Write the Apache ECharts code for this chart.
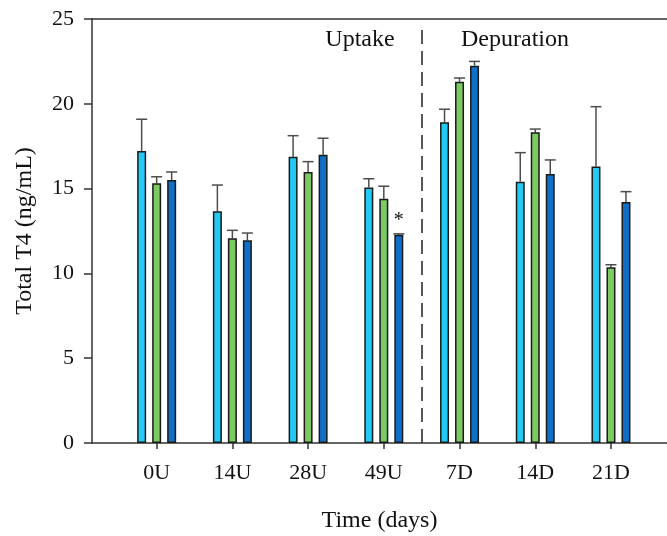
<!DOCTYPE html>
<html>
<head>
<meta charset="utf-8">
<script src="https://cdn.jsdelivr.net/npm/echarts@6/dist/echarts.min.js"></script>
<style>
html,body{margin:0;padding:0;background:#fff;}
#chart{width:667px;height:536px;}
</style>
</head>
<body>
<div id="chart"></div>
<script>
// ---- data ----
const categories = ['0U', '14U', '28U', '49U', '7D', '14D', '21D'];
const yTicks = [0, 5, 10, 15, 20, 25];
const meanA = [17.22, 13.66, 16.88, 15.07, 18.91, 15.41, 16.31];
const errA  = [1.87, 1.55, 1.24, 0.51, 0.77, 1.71, 3.52];
const meanB = [15.31, 12.07, 15.98, 14.40, 21.30, 18.32, 10.36];
const errB  = [0.39, 0.47, 0.61, 0.74, 0.22, 0.19, 0.15];
const meanC = [15.51, 11.95, 17.00, 12.28, 22.25, 15.86, 14.21];
const errC  = [0.47, 0.43, 0.97, 0.05, 0.25, 0.83, 0.61];
const markC = ['', '', '', '*', '', '', ''];
const phaseLabels = ['Uptake', 'Depuration'];
const phaseDivider = 4.5;
const phaseTop = 24.4;

// ---- style ----
const FONT = '"Liberation Serif", "Times New Roman", serif';
const colors = ['#22CBF6', '#7BCB62', '#106FC7'];
const BAR_W = 9;
const BAR_STEP = 15;
const X_MIN = 0.146, X_MAX = 7.74;

const chart = echarts.init(document.getElementById('chart'));
const positions = categories.map((c, i) => i + 1);

function barSeries(means, idx, extra) {
  return Object.assign({
    type: 'bar',
    name: 'S' + idx,
    data: means.map((v, i) => [positions[i], v]),
    barWidth: BAR_W,
    barGap: ((BAR_STEP - BAR_W) / BAR_W * 100) + '%',
    itemStyle: { color: colors[idx], borderColor: '#1a1a1a', borderWidth: 1.5 },
    z: 3
  }, extra || {});
}

function errSeries(means, errs, idx) {
  const off = (idx - 1) * BAR_STEP;
  return {
    type: 'custom',
    data: means.map((v, i) => [positions[i], v, errs[i]]),
    z: 2,
    silent: true,
    renderItem: function (params, api) {
      const b = api.coord([api.value(0), api.value(1)]);
      const t = api.coord([api.value(0), api.value(1) + api.value(2)]);
      const x = b[0] + off;
      const st = { stroke: '#4d4d4d', lineWidth: 1.5 };
      return {
        type: 'group',
        children: [
          { type: 'line', shape: { x1: x, y1: b[1], x2: x, y2: t[1] }, style: st },
          { type: 'line', shape: { x1: x - 5.5, y1: t[1], x2: x + 5.5, y2: t[1] }, style: st }
        ]
      };
    }
  };
}

const option = {
  animation: false,
  backgroundColor: '#fff',
  grid: { left: 92, right: 0, top: 19, bottom: 93, containLabel: false, outerBoundsMode: 'none' },
  xAxis: [{
    type: 'value',
    min: X_MIN, max: X_MAX,
    splitLine: { show: false },
    axisLine: { show: true, lineStyle: { color: '#333', width: 1.5 } },
    axisTick: { show: true, customValues: positions, length: 6, lineStyle: { color: '#333', width: 1.5 } },
    axisLabel: {
      customValues: positions,
      formatter: v => categories[Math.round(v) - 1] || '',
      fontFamily: FONT, fontSize: 22, color: '#111', margin: 19
    },
    name: 'Time (days)',
    nameLocation: 'middle',
    nameGap: 66,
    nameTextStyle: { fontFamily: FONT, fontSize: 24, color: '#111' }
  }, {
    type: 'value',
    position: 'top',
    min: X_MIN, max: X_MAX,
    splitLine: { show: false },
    axisLine: { show: true, lineStyle: { color: '#333', width: 1.5 } },
    axisTick: { show: false },
    axisLabel: { show: false }
  }],
  yAxis: {
    type: 'value',
    min: yTicks[0], max: yTicks[yTicks.length - 1], interval: yTicks[1] - yTicks[0],
    splitLine: { show: false },
    axisLine: { show: true, lineStyle: { color: '#333', width: 1.5 } },
    axisTick: { show: true, length: 8, lineStyle: { color: '#333', width: 1.5 } },
    axisLabel: { fontFamily: FONT, fontSize: 22, color: '#111', margin: 18 },
    name: 'Total T4 (ng/mL)',
    nameLocation: 'middle',
    nameGap: 55,
    nameTextStyle: { fontFamily: FONT, fontSize: 24, color: '#111' }
  },
  series: [
    errSeries(meanA, errA, 0),
    errSeries(meanB, errB, 1),
    errSeries(meanC, errC, 2),
    barSeries(meanA, 0),
    barSeries(meanB, 1, {
      markLine: {
        silent: true,
        symbol: 'none',
        label: { show: false },
        lineStyle: { color: '#222', width: 1.5, type: [14, 7] },
        data: [[{ coord: [phaseDivider, 0] }, { coord: [phaseDivider, phaseTop] }]]
      }
    }),
    barSeries(meanC, 2, {
      label: {
        show: true, position: 'top', distance: 4,
        formatter: p => markC[p.dataIndex],
        fontFamily: FONT, fontSize: 20, color: '#111'
      }
    })
  ],
  graphic: [
    { type: 'text', x: 360, y: 40, style: { text: phaseLabels[0], font: '24px ' + FONT, fill: '#111', textAlign: 'center', textVerticalAlign: 'middle' } },
    { type: 'text', x: 515, y: 40, style: { text: phaseLabels[1], font: '24px ' + FONT, fill: '#111', textAlign: 'center', textVerticalAlign: 'middle' } }
  ]
};
chart.setOption(option);
</script>
</body>
</html>
